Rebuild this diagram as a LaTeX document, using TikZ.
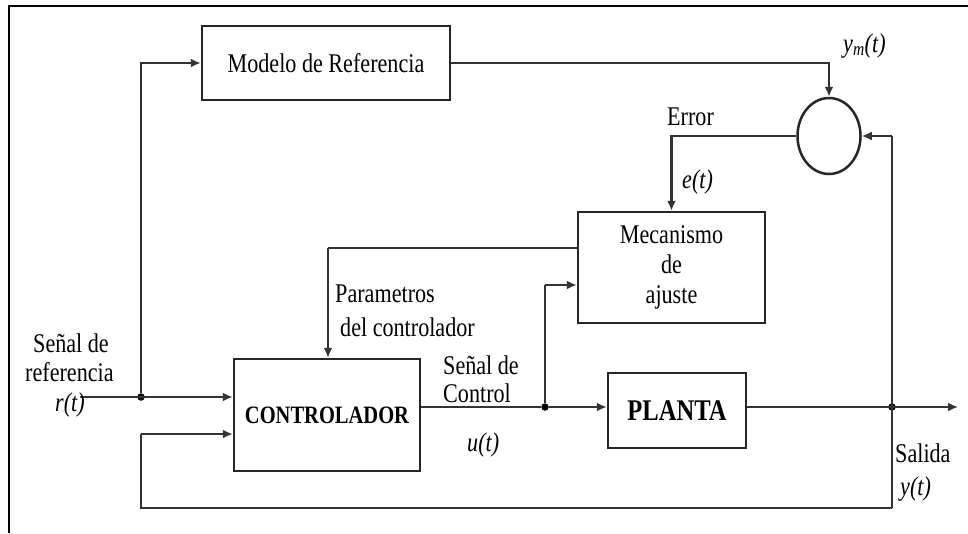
\documentclass[tikz,border=0pt]{standalone}
\usepackage{fontspec}
\setmainfont{Liberation Serif}[FakeStretch=0.82]
\usetikzlibrary{arrows.meta,shapes.geometric}
\begin{document}
\begin{tikzpicture}[x=1pt,y=-1pt,
  blk/.style={draw=black!85, line width=2.5pt, rectangle, inner sep=0pt},
  txt/.style={font=\fontsize{27}{30}\selectfont, inner sep=0pt},
  conn/.style={line width=2.5pt, draw=black!80},
  arr/.style={conn, -{Latex[length=10pt,width=9pt]}},
  jdot/.style={circle, fill=black, inner sep=0pt, minimum size=7.5pt},
]
\useasboundingbox (0,0) rectangle (968,533);
% frame
\draw[line width=2.2pt] (9,533) -- (9,6) -- (968,6);

% blocks
\node[blk, minimum width=248pt, minimum height=74pt, font=\fontsize{27}{30}\selectfont] (model) at (326,63) {Modelo de Referencia};
\node[blk, minimum width=187pt, minimum height=111pt, align=center, font=\fontsize{27}{30}\selectfont] (mech) at (671.5,267.5) {Mecanismo\\de\\ajuste};
\node[blk, minimum width=186pt, minimum height=112pt, font=\fontsize{25}{28}\selectfont\bfseries] (ctrl) at (327,415) {CONTROLADOR};
\node[blk, minimum width=138pt, minimum height=75pt, font=\fontsize{30}{33}\selectfont\bfseries] (plant) at (677,410.5) {PLANTA};
\node[draw=black!85, line width=2.5pt, ellipse, minimum width=63pt, minimum height=76pt, inner sep=0pt] (sum) at (829,136) {};

% coordinates
\coordinate (rin) at (80,397);
\node[jdot] (j1) at (141,397) {};
\node[jdot] (j2) at (545,407) {};
\node[jdot] (j4) at (892,407) {};
\coordinate (out) at (958,407);
\coordinate (fbr) at (892,508);
\coordinate (fbl) at (141,508);
\coordinate (fbin) at (141,434);
\coordinate (sumr) at (892,136);
\coordinate (par) at (328,248);
\coordinate (mecin) at (545,285);

% connectors
\draw[arr] (rin) -- (ctrl.west |- j1);
\draw[arr] (j1) |- (model.west);
\draw[arr] (model.east) -| (sum.north);
\draw[arr] (sum.west) -| (mech.north);
\draw[conn] (fbr) -- (sumr);
\draw[arr] (sumr) -- (sum.east);
\draw[conn] (mech.west |- par) -- (par);
\draw[arr] (par) -- (ctrl.north -| par);
\draw[conn] (ctrl.east |- j2) -- (j2);
\draw[arr] (j2) -- (plant.west |- j2);
\draw[conn] (j2) -- (mecin);
\draw[arr] (mecin) -- (mech.west |- mecin);
\draw[arr] (plant.east |- j4) -- (out);
\draw[conn] (fbr) -- (fbl) -- (fbin);
\draw[arr] (fbin) -- (ctrl.west |- fbin);

% labels
\node[txt, anchor=base west] (l1) at (33,352) {Señal de};
\node[txt, anchor=base west] (l2) at (25,381) {referencia};
\node[txt, anchor=base west] (l3) at (55,411) {\itshape r(t)};
\node[txt, anchor=base west] (l4) at (443,374) {Señal de};
\node[txt, anchor=base west] (l5) at (443,402) {Control};
\node[txt, anchor=base west] (l6) at (467,451) {\itshape u(t)};
\node[txt, anchor=base west] (l7) at (335,302) {Parametros};
\node[txt, anchor=base west] (l8) at (340,336) {del controlador};
\node[txt, anchor=base west] (l9) at (895,462) {Salida};
\node[txt, anchor=base west] (l10) at (900,495) {\itshape y(t)};
\node[txt, anchor=base west] (l11) at (667,125) {Error};
\node[txt, anchor=base west] (l12) at (682,188) {\itshape e(t)};
\node[txt, anchor=base west] (l13) at (843,52) {\itshape y\textsubscript{m}(t)};
\end{tikzpicture}
\end{document}
